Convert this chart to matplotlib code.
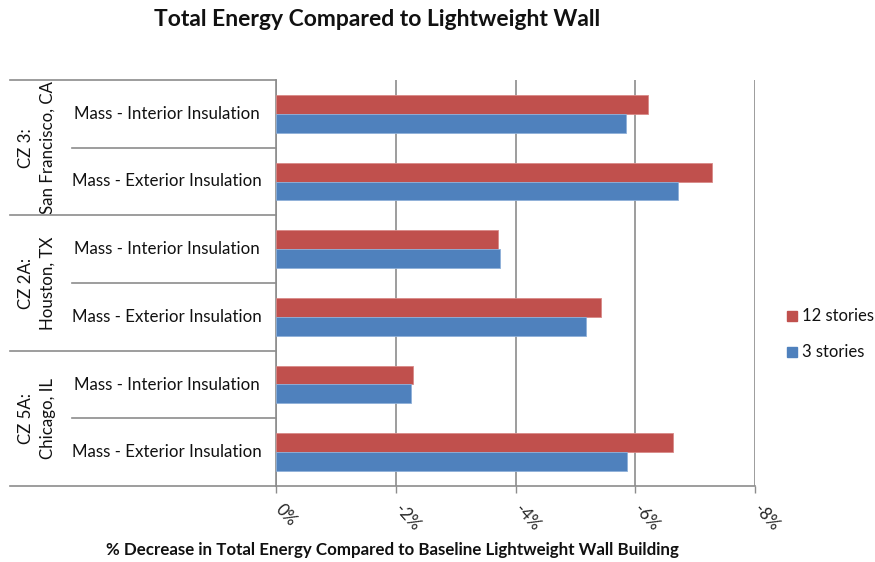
import matplotlib
matplotlib.use("Agg")
import matplotlib.pyplot as plt
import matplotlib.transforms as mtransforms
from matplotlib.patches import Rectangle
import numpy as np

plt.rcParams['font.family'] = ['Lato', 'DejaVu Sans']

# Data: % change in total energy vs. baseline lightweight wall building
groups = ["CZ 3:\nSan Francisco, CA", "CZ 2A:\nHouston, TX", "CZ 5A:\nChicago, IL"]
subcats = ["Mass - Interior Insulation", "Mass - Exterior Insulation"]
stories12 = [-6.22, -7.29, -3.71, -5.43, -2.29, -6.63]
stories3 = [-5.84, -6.72, -3.74, -5.18, -2.25, -5.87]
series_names = ["12 stories", "3 stories"]
xticks = [0, -2, -4, -6, -8]
xticklabels = ["0%", "-2%", "-4%", "-6%", "-8%"]

red = "#C0504D"
blue = "#4F81BD"
grid_c = "#8c8c8c"

fig = plt.figure(figsize=(8.75, 5.62), dpi=100)
ax = fig.add_axes([276 / 875, 1 - 486 / 562, (755 - 276) / 875, (486 - 80) / 562])

n = len(stories12)
y = np.arange(n)
bh = 0.28
ax.barh(y - bh / 2, stories12, height=bh, color=red, edgecolor="#d88a88", linewidth=0.6, zorder=3)
ax.barh(y + bh / 2, stories3, height=bh, color=blue, edgecolor="#8fb0d9", linewidth=0.6, zorder=3)

ax.set_xlim(0, -8)
ax.set_ylim(n - 0.5, -0.5)

ax.set_xticks(xticks)
ax.set_xticklabels([])
ax.tick_params(axis='x', length=5, color=grid_c, width=1)
ax.set_yticks([])
ax.grid(axis='x', color=grid_c, linewidth=1.2, zorder=0)

for side in ["top", "right"]:
    ax.spines[side].set_visible(False)
ax.spines["left"].set_color(grid_c)
ax.spines["bottom"].set_color(grid_c)
ax.spines["left"].set_linewidth(1.2)
ax.spines["bottom"].set_linewidth(1.2)

# Rotated x tick labels
for v, lab in zip(xticks, xticklabels):
    ax.annotate(lab, xy=(v, 0), xycoords=('data', 'axes fraction'),
                xytext=(-3, -11), textcoords='offset points',
                rotation=-48, ha='left', va='top', fontsize=12, color="#222222")

# Category labels and separator lines to the left of the plot
blend = mtransforms.blended_transform_factory(fig.transFigure, ax.transData)
x_axis = 276 / 875
x_sub = 72 / 875
x_grp = 10 / 875
x_grp_label = 37 / 875
x_sub_label = 167 / 875

for i in range(n):
    ax.text(x_sub_label, i, subcats[i % 2], transform=blend, ha='center', va='center',
            fontsize=12.2, color="#111111")

for b in range(n + 1):
    yb = b - 0.5
    x0 = x_grp if b % 2 == 0 else x_sub
    fig.add_artist(plt.Line2D([x0, x_axis], [yb, yb], transform=blend,
                              color=grid_c, linewidth=1.2))

for g, name in enumerate(groups):
    ax.text(x_grp_label, 2 * g + 0.5, name, transform=blend, ha='center', va='center',
            rotation=90, fontsize=12.2, color="#111111", linespacing=1.45)

# Legend
for k, (nm, col) in enumerate(zip(series_names, [red, blue])):
    ypix = 316 + k * 36
    fig.add_artist(Rectangle((787 / 875, 1 - (ypix + 5) / 562), 10 / 875, 10 / 562,
                             transform=fig.transFigure, color=col))
    fig.text(802 / 875, 1 - ypix / 562, nm, ha='left', va='center', fontsize=12, color="#111111")

fig.text(377 / 875, 1 - 20 / 562, "Total Energy Compared to Lightweight Wall",
         ha='center', va='center', fontsize=16.5, fontweight='bold', color="#111111")
fig.text(392 / 875, 1 - 550 / 562,
         "% Decrease in Total Energy Compared to Baseline Lightweight Wall Building",
         ha='center', va='center', fontsize=12.2, fontweight='bold', color="#111111")

fig.savefig("out.png", dpi=100, facecolor="white")
